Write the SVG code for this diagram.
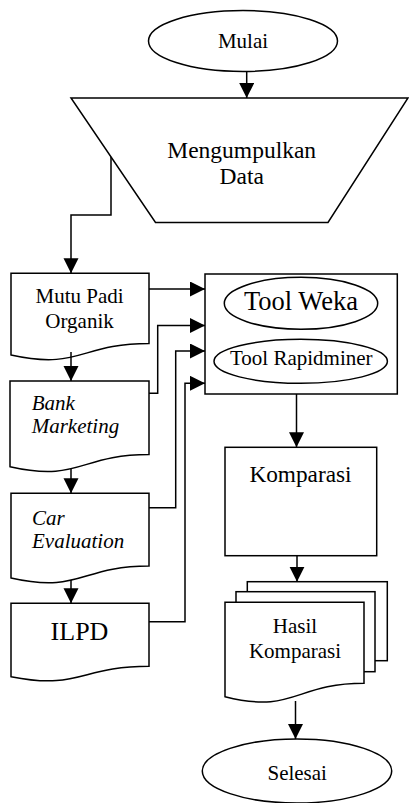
<svg xmlns="http://www.w3.org/2000/svg" width="409" height="803" viewBox="0 0 409 803">
<style>
.s{fill:#fff;stroke:#000;stroke-width:1.5}
.c{fill:none;stroke:#000;stroke-width:1.5}
text{font-family:"Liberation Serif","Times New Roman",serif;fill:#000}
.m{text-anchor:middle}
.i{font-style:italic}
</style>
<defs>
<marker id="ah" markerUnits="userSpaceOnUse" markerWidth="16" markerHeight="16" refX="15" refY="7.5" orient="auto">
<path d="M0,0 L15,7.5 L0,15 Z" fill="#000"/>
</marker>
</defs>
<rect width="409" height="803" fill="#fff"/>
<g id="mulai">
<ellipse class="s" cx="243" cy="41" rx="94.5" ry="30.5"/>
<text class="m" x="243" y="47.5" font-size="21">Mulai</text>
</g>
<g id="mengumpulkan">
<path class="s" d="M71,98 H408 L328,222.5 H155.5 Z"/>
<text class="m" x="241.7" y="158" font-size="23.5">Mengumpulkan</text>
<text class="m" x="241.7" y="184" font-size="23.5">Data</text>
</g>
<g id="mutu">
<path class="s" d="M11,273.3 H149 V343.5 C80,343.5 80,370.2 11,355 Z"/>
<text class="m" x="79.5" y="303" font-size="21">Mutu Padi</text>
<text class="m" x="79.5" y="328" font-size="21">Organik</text>
</g>
<g id="bank">
<path class="s" d="M10,381 H149 V454.5 C79.5,454.5 79.5,482.5 10,466.7 Z"/>
<text class="i" x="31.7" y="410" font-size="21">Bank</text>
<text class="i" x="31.7" y="433.3" font-size="21">Marketing</text>
</g>
<g id="car">
<path class="s" d="M11,493.3 H149 V566 C80,566 80,593.7 11,578 Z"/>
<text class="i" x="32" y="525" font-size="21">Car</text>
<text class="i" x="32" y="548.3" font-size="21">Evaluation</text>
</g>
<g id="ilpd">
<path class="s" d="M11,603.3 H149 V666.3 C80,666.3 80,690.3 11,676.7 Z"/>
<text class="m" x="79.5" y="640" font-size="26">ILPD</text>
</g>
<g id="tools">
<rect class="s" x="205" y="274" width="192.3" height="120"/>
<ellipse class="s" cx="301" cy="303.3" rx="76.7" ry="26"/>
<text class="m" x="301" y="310" font-size="26.5">Tool Weka</text>
<ellipse class="s" cx="300.7" cy="361.3" rx="86.7" ry="22"/>
<text class="m" x="301.3" y="365" font-size="21">Tool Rapidminer</text>
</g>
<g id="komparasi">
<rect class="s" x="225" y="447.3" width="151.7" height="108.4"/>
<text class="m" x="300.5" y="481.7" font-size="23.3">Komparasi</text>
</g>
<g id="hasil">
<rect class="s" x="247.3" y="581.7" width="140" height="79"/>
<rect class="s" x="236" y="591.7" width="139" height="80"/>
<path class="s" d="M225,602.3 H364 V683.3 C294.5,683.3 294.5,714.1 225,696.7 Z"/>
<text class="m" x="295" y="633.3" font-size="21">Hasil</text>
<text class="m" x="295" y="658.3" font-size="21">Komparasi</text>
</g>
<g id="selesai">
<ellipse class="s" cx="297" cy="771" rx="94.7" ry="32"/>
<text class="m" x="297.2" y="780" font-size="21">Selesai</text>
</g>
<g id="connectors">
<path class="c" d="M246.7,71.5 V98" marker-end="url(#ah)"/>
<path class="c" d="M111,157 V215 H71 V273.3" marker-end="url(#ah)"/>
<path class="c" d="M71,352 V381" marker-end="url(#ah)"/>
<path class="c" d="M71,469 V493.3" marker-end="url(#ah)"/>
<path class="c" d="M71,580 V603.3" marker-end="url(#ah)"/>
<path class="c" d="M149,289 H205" marker-end="url(#ah)"/>
<path class="c" d="M149,393.3 H157.7 V325.5 H205" marker-end="url(#ah)"/>
<path class="c" d="M149,507.7 H175.7 V351 H205" marker-end="url(#ah)"/>
<path class="c" d="M149,621.7 H185 V383.3 H205" marker-end="url(#ah)"/>
<path class="c" d="M296.5,394 V447.3" marker-end="url(#ah)"/>
<path class="c" d="M297,555.7 V581.7" marker-end="url(#ah)"/>
<path class="c" d="M295.5,701 V739" marker-end="url(#ah)"/>
</g>
</svg>
